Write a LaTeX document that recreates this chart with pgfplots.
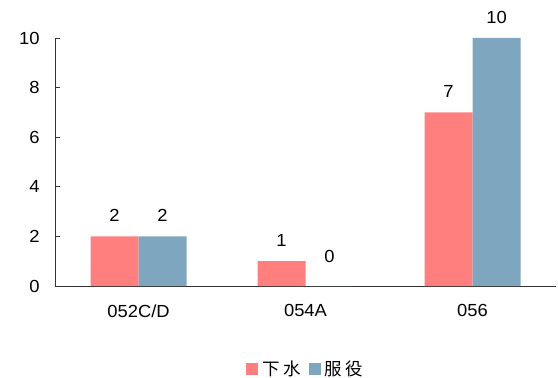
\documentclass[border=0pt]{standalone}
\usepackage{pgfplots}
\pgfplotsset{compat=1.18}
\usepackage{fontspec}
\setmainfont{Liberation Sans}[FakeStretch=1.05]
\newfontfamily\cjk{Noto Sans CJK SC}[LetterSpace=18]
\definecolor{launchred}{RGB}{255,127,127}
\definecolor{serviceblue}{RGB}{127,166,191}
\begin{document}
\begin{tikzpicture}[x=1bp,y=1bp]
\path[use as bounding box] (0,0) rectangle (558,377);
\begin{axis}[
  at={(55bp,91bp)}, anchor=south west,
  scale only axis, width=501bp, height=248bp,
  ybar=0pt, bar width=48bp,
  xmin=-0.5, xmax=2.5, ymin=0, ymax=10,
  axis x line=bottom, axis y line=left,
  axis line style={-, draw=black!80, line width=0.8bp},
  xtick={0,1,2}, xticklabels={052C/D,054A,056},
  major x tick style={draw=none},
  extra x ticks={-0.5,0.5,1.5,2.5}, extra x tick labels={},
  extra x tick style={major tick length=5bp, tick align=inside, major tick style={draw=black!80, line width=0.8bp}},
  ytick={0,2,4,6,8,10},
  tick align=inside, major tick length=5bp,
  y tick style={draw=black!80, line width=0.8bp},
  /pgf/number format/assume math mode=true,
  tick label style={font=\fontsize{17.5bp}{20bp}\selectfont},
  yticklabel style={xshift=-12bp},
  xticklabel style={yshift=-15bp},
  nodes near coords,
  visualization depends on={ifthenelse(y==0,9,0)\as\zerolift},
  every node near coord/.append style={font=\fontsize{17.5bp}{20bp}\selectfont, yshift=11bp+\zerolift bp, black},
  legend style={at={(0.5,-0.335)}, anchor=center, draw=none, legend columns=2,
    font=\cjk\fontsize{17.5bp}{20bp}\selectfont,
    /tikz/every even column/.append style={column sep=6bp},
    /tikz/every odd column/.append style={column sep=2bp}},
  legend image code/.code={\fill[#1] (0bp,-6bp) rectangle (12bp,6bp);},
]
\addplot[fill=launchred, draw=none] coordinates {(0,2) (1,1) (2,7)};
\addplot[fill=serviceblue, draw=none] coordinates {(0,2) (1,0) (2,10)};
\legend{下水,服役}
\end{axis}
\end{tikzpicture}
\end{document}
